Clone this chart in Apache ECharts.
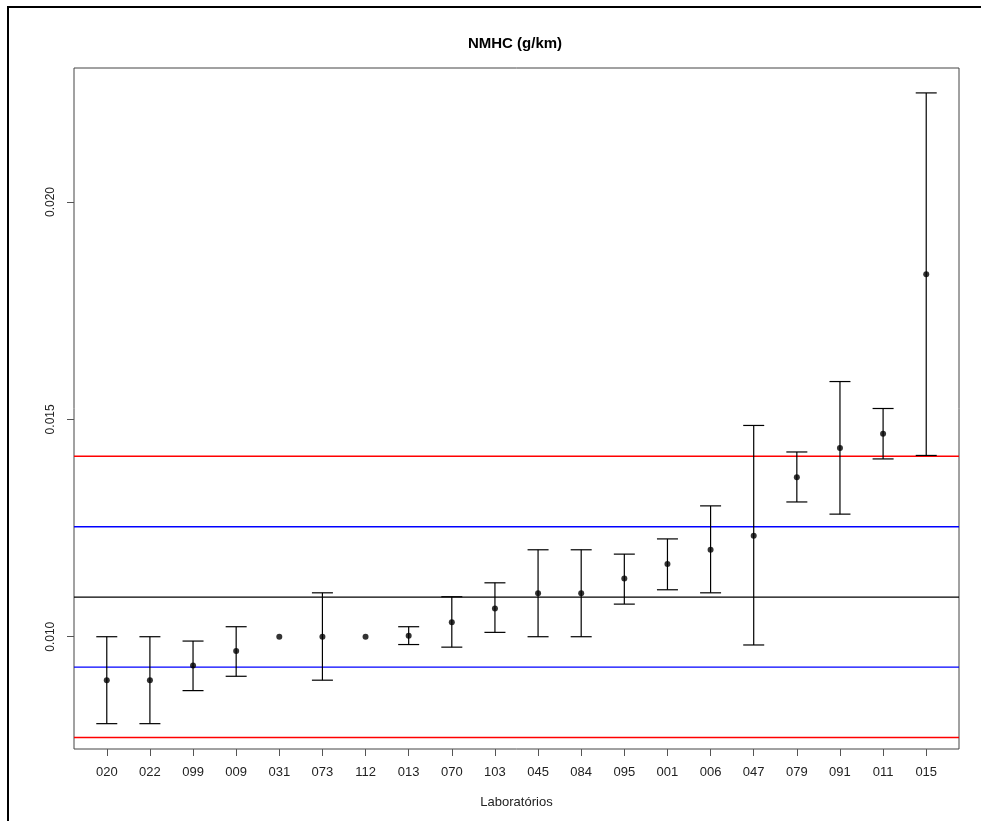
<!DOCTYPE html>
<html>
<head>
<meta charset="utf-8">
<script src="https://cdn.jsdelivr.net/npm/echarts@6/dist/echarts.min.js"></script>
<style>html,body{margin:0;padding:0;background:#fff;}#c{width:981px;height:821px;}</style>
</head>
<body>
<div id="c"></div>
<script>
const labs = ['020','022','099','009','031','073','112','013','070','103','045','084','095','001','006','047','079','091','011','015'];
const means = [0.0090,0.0090,0.00934,0.00967,0.0100,0.0100,0.0100,0.01002,0.01033,0.01065,0.0110,0.0110,0.01134,0.01167,0.0120,0.01232,0.01367,0.01434,0.01467,0.01834];
const lows  = [0.0080,0.0080,0.00876,0.00909,null,0.0090,null,0.00982,0.00976,0.0101,0.0100,0.0100,0.01075,0.01108,0.01101,0.00981,0.0131,0.01282,0.01409,0.01417];
const highs = [0.0100,0.0100,0.0099,0.01023,null,0.01101,null,0.01023,0.01092,0.01124,0.0120,0.0120,0.0119,0.01225,0.01301,0.01486,0.01425,0.01587,0.01525,0.02251];
const refValues = [0.01415, 0.01253, 0.01091, 0.00930, 0.00768];
const refColors = ['#FF0000', '#0000FF', '#000000', '#0000FF', '#FF0000'];
const yTicks = [0.010, 0.015, 0.020];
const xMin = 0.24, xMax = 20.76;
const xPos = labs.map((_, i) => i + 1);

const chart = echarts.init(document.getElementById('c'), null, {renderer:'canvas'});
const barData = [];
labs.forEach((l, i) => { if (lows[i] !== null) barData.push([xPos[i], lows[i], highs[i]]); });
const ptData = labs.map((l, i) => [xPos[i], means[i]]);
const refData = refValues.map((v, i) => [xMin, v, xMax]);

chart.setOption({
  animation: false,
  backgroundColor: '#ffffff',
  title: {
    text: 'NMHC (g/km)', left: 510, top: 31, textAlign: 'center',
    textStyle: {fontFamily: 'Liberation Sans', fontSize: 15, fontWeight: 'bold', color: '#000'}
  },
  graphic: [{
    type: 'rect', shape: {x: 8, y: 7, width: 1000, height: 900},
    style: {fill: 'none', stroke: '#000', lineWidth: 2}, silent: true
  }],
  grid: {left: 74, top: 68, right: 22, bottom: 72, show: true, borderColor: '#444', borderWidth: 1, backgroundColor: 'transparent'},
  xAxis: {
    type: 'value', min: xMin, max: xMax,
    name: 'Laboratórios', nameLocation: 'middle', nameGap: 47,
    nameTextStyle: {fontFamily: 'Liberation Sans', fontSize: 13, color: '#222'},
    axisLine: {show: false},
    splitLine: {show: false},
    axisTick: {show: true, length: 7, customValues: xPos, lineStyle: {color: '#555'}},
    axisLabel: {customValues: xPos, margin: 17, fontFamily: 'Liberation Sans', fontSize: 13, color: '#222',
      formatter: v => labs[Math.round(v) - 1] || ''}
  },
  yAxis: {
    type: 'value', min: 0.007417, max: 0.023083,
    axisLine: {show: false},
    splitLine: {show: false},
    axisTick: {show: true, length: 7, customValues: yTicks, lineStyle: {color: '#555'}},
    axisLabel: {customValues: yTicks, rotate: 90, margin: 17, fontFamily: 'Liberation Sans', fontSize: 12, color: '#222',
      formatter: v => v.toFixed(3)}
  },
  series: [
    {
      type: 'custom', data: refData, silent: true, z: 2,
      renderItem: (params, api) => {
        const a = api.coord([api.value(0), api.value(1)]);
        const b = api.coord([api.value(2), api.value(1)]);
        return {type: 'line', shape: {x1: a[0], y1: a[1], x2: b[0], y2: b[1]},
          style: {stroke: refColors[params.dataIndex], lineWidth: 1.4}};
      }
    },
    {
      type: 'custom', data: barData, silent: true,
      renderItem: (params, api) => {
        const x = api.value(0);
        const lo = api.coord([x, api.value(1)]);
        const hi = api.coord([x, api.value(2)]);
        const cw = 10.5;
        const st = {stroke: '#000', lineWidth: 1.2};
        return {type: 'group', children: [
          {type: 'line', shape: {x1: lo[0], y1: lo[1], x2: hi[0], y2: hi[1]}, style: st},
          {type: 'line', shape: {x1: lo[0]-cw, y1: lo[1], x2: lo[0]+cw, y2: lo[1]}, style: st},
          {type: 'line', shape: {x1: hi[0]-cw, y1: hi[1], x2: hi[0]+cw, y2: hi[1]}, style: st}
        ]};
      },
      z: 3
    },
    {
      type: 'scatter', data: ptData, symbol: 'circle', symbolSize: 6,
      itemStyle: {color: '#000'}, silent: true, z: 4
    }
  ]
});
</script>
</body>
</html>
